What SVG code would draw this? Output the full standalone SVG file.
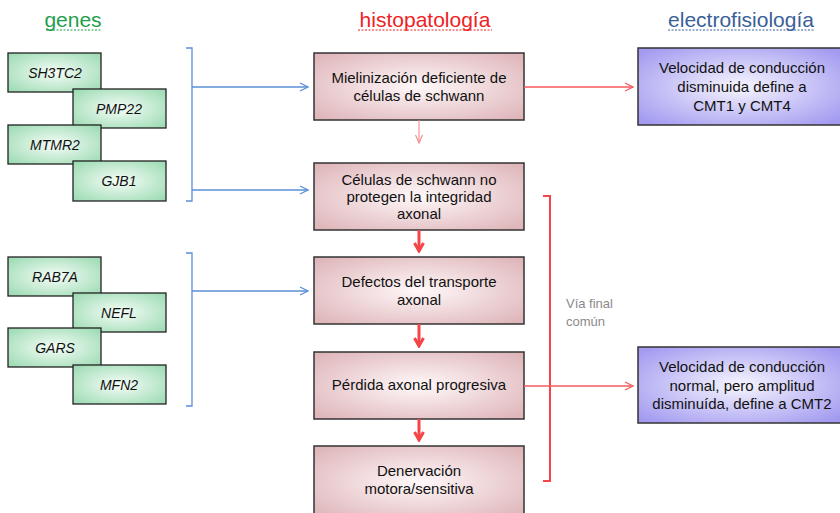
<svg xmlns="http://www.w3.org/2000/svg" width="840" height="513" viewBox="0 0 840 513">
<defs>
<radialGradient id="gGreen" cx="50%" cy="50%" r="65%">
<stop offset="0" stop-color="#f6fdf8"/><stop offset="1" stop-color="#9fdcb5"/>
</radialGradient>
<radialGradient id="gPink" cx="50%" cy="50%" r="65%">
<stop offset="0" stop-color="#fff8f9"/><stop offset="1" stop-color="#dfb7bb"/>
</radialGradient>
<radialGradient id="gPurple" cx="50%" cy="50%" r="65%">
<stop offset="0" stop-color="#f6f5fe"/><stop offset="1" stop-color="#a39bf0"/>
</radialGradient>
<marker id="aBlue" viewBox="0 0 10 10" refX="9" refY="5" markerWidth="10" markerHeight="10" markerUnits="userSpaceOnUse" orient="auto">
<path d="M1,1 L9,5 L1,9" fill="none" stroke="#5b8fd6" stroke-width="1.2"/>
</marker>
<marker id="aRed" viewBox="0 0 10 10" refX="9" refY="5" markerWidth="10" markerHeight="10" markerUnits="userSpaceOnUse" orient="auto">
<path d="M1,1 L9,5 L1,9" fill="none" stroke="#f45a5a" stroke-width="1.2"/>
</marker>
<marker id="aRedThin" viewBox="0 0 10 10" refX="9" refY="5" markerWidth="10" markerHeight="10" markerUnits="userSpaceOnUse" orient="auto">
<path d="M1,1.5 L9,5 L1,8.5" fill="none" stroke="#f48a8a" stroke-width="1.1"/>
</marker>
<marker id="aBold" viewBox="0 0 12 12" refX="10" refY="6" markerWidth="12" markerHeight="12" markerUnits="userSpaceOnUse" orient="auto">
<path d="M2,1.5 L10,6 L2,10.5" fill="none" stroke="#f44447" stroke-width="3"/>
</marker>
</defs>
<style>
.gene rect{fill:url(#gGreen);stroke:#222;stroke-width:1.3}
.gene text{font-family:"Liberation Sans",Arial,sans-serif;font-style:italic;font-size:14px;fill:#111;text-anchor:middle}
.hist rect{fill:url(#gPink);stroke:#333;stroke-width:1.5}
.elec rect{fill:url(#gPurple);stroke:#333;stroke-width:1.5}
.hist text,.elec text{font-family:"Liberation Sans",Arial,sans-serif;font-size:15px;fill:#111;text-anchor:middle}
.hdr{font-family:"Liberation Sans",Arial,sans-serif;font-size:21px;text-anchor:middle}
.blue{stroke:#5b8fd6;stroke-width:1.3;fill:none}
.red{stroke:#f45a5a;stroke-width:1.3;fill:none}
.bold{stroke:#f44447;stroke-width:3;fill:none}
</style>

<g id="headers">
<text class="hdr" x="73" y="27" fill="#1f9e4d">genes</text>
<line x1="46" y1="30" x2="101" y2="30" stroke="#1f9e4d" stroke-width="1" stroke-dasharray="2,1.5"/>
<text class="hdr" x="425" y="27" fill="#ee2222">histopatología</text>
<line x1="358" y1="30" x2="492" y2="30" stroke="#ee2222" stroke-width="1" stroke-dasharray="2,1.5"/>
<text class="hdr" x="741" y="27" fill="#3a5f98">electrofisiología</text>
<line x1="668" y1="30" x2="815" y2="30" stroke="#3a5f98" stroke-width="1" stroke-dasharray="2,1.5"/>
</g>

<g id="gene-SH3TC2" class="gene"><rect x="8" y="53" width="93" height="39"/><text x="55" y="78">SH3TC2</text></g>
<g id="gene-PMP22" class="gene"><rect x="73" y="89" width="93" height="39"/><text x="119" y="114">PMP22</text></g>
<g id="gene-MTMR2" class="gene"><rect x="8" y="125" width="93" height="39"/><text x="55" y="150">MTMR2</text></g>
<g id="gene-GJB1" class="gene"><rect x="73" y="161" width="93" height="40"/><text x="119" y="186">GJB1</text></g>

<g id="gene-RAB7A" class="gene"><rect x="8" y="257" width="93" height="39"/><text x="55" y="282">RAB7A</text></g>
<g id="gene-NEFL" class="gene"><rect x="73" y="293" width="93" height="39"/><text x="119" y="318">NEFL</text></g>
<g id="gene-GARS" class="gene"><rect x="8" y="328" width="93" height="39"/><text x="55" y="353">GARS</text></g>
<g id="gene-MFN2" class="gene"><rect x="73" y="365" width="93" height="39"/><text x="119" y="390">MFN2</text></g>

<g id="h1" class="hist"><rect x="314" y="53" width="210" height="67"/><text x="419" y="83">Mielinización deficiente de</text><text x="419" y="101">células de schwann</text></g>
<g id="h2" class="hist"><rect x="314" y="163" width="210" height="67"/><text x="419" y="185">Células de schwann no</text><text x="419" y="202">protegen la integridad</text><text x="419" y="219">axonal</text></g>
<g id="h3" class="hist"><rect x="314" y="257" width="210" height="67"/><text x="419" y="287">Defectos del transporte</text><text x="419" y="305">axonal</text></g>
<g id="h4" class="hist"><rect x="314" y="352" width="210" height="67"/><text x="419" y="390">Pérdida axonal progresiva</text></g>
<g id="h5" class="hist"><rect x="314" y="446" width="210" height="72"/><text x="419" y="476">Denervación</text><text x="419" y="494">motora/sensitiva</text></g>

<g id="e1" class="elec"><rect x="638" y="48" width="203" height="77"/><text x="742" y="73">Velocidad de conducción</text><text x="742" y="92">disminuida define a</text><text x="742" y="111">CMT1 y CMT4</text></g>
<g id="e2" class="elec"><rect x="638" y="347" width="203" height="76"/><text x="742" y="372">Velocidad de conducción</text><text x="742" y="391">normal, pero amplitud</text><text x="742" y="409">disminuída, define a CMT2</text></g>

<g id="connectors">
<path class="blue" d="M186,48 H192 V201 H186"/>
<path class="blue" d="M192,87 H308" marker-end="url(#aBlue)"/>
<path class="blue" d="M192,190 H308" marker-end="url(#aBlue)"/>
<path class="blue" d="M186,253 H192 V406 H186"/>
<path class="blue" d="M192,291 H308" marker-end="url(#aBlue)"/>
<path class="red" d="M524,87 H633" marker-end="url(#aRed)"/>
<path d="M419,120 V143" stroke="#f48a8a" stroke-width="1.1" fill="none" marker-end="url(#aRedThin)"/>
<path class="bold" d="M419,230 V251" marker-end="url(#aBold)"/>
<path class="bold" d="M419,324 V346" marker-end="url(#aBold)"/>
<path class="bold" d="M419,419 V440" marker-end="url(#aBold)"/>
<path d="M543,196 H550 V481 H543" stroke="#f44447" stroke-width="2" fill="none"/>
<path class="red" d="M524,386 H633" marker-end="url(#aRed)"/>
</g>

<g id="label-via">
<text x="566" y="308" font-family="Liberation Sans,Arial,sans-serif" font-size="13" fill="#8a8a8a">Vía final</text>
<text x="566" y="326" font-family="Liberation Sans,Arial,sans-serif" font-size="13" fill="#8a8a8a">común</text>
</g>
</svg>
